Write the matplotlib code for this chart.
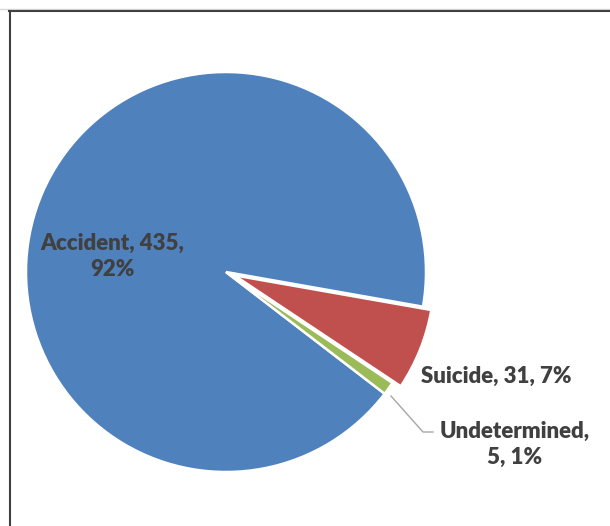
import matplotlib.pyplot as plt
from matplotlib.lines import Line2D

# death counts by manner
categories = ['Accident', 'Suicide', 'Undetermined']
counts = [435, 31, 5]
colors = ['#4F81BD', '#C0504D', '#9BBB59']
explode = [0, 0.045, 0]

W, H = 610, 526
R = 200.0          # pie radius in pixels
CX, CY = 226, 272  # pie centre in pixels (from top-left)

fig = plt.figure(figsize=(W / 100, H / 100), dpi=100)
ax = fig.add_axes([0, 0, 1, 1])

wedges, _ = ax.pie(counts, colors=colors, explode=explode, startangle=-37.5,
                   counterclock=False, radius=1,
                   wedgeprops=dict(edgecolor='white', linewidth=1.8))
ax.set_xlim(-CX / R, (W - CX) / R)
ax.set_ylim(-(H - CY) / R, CY / R)
ax.set_aspect('equal')
ax.axis('off')

total = sum(counts)
labels = [f'{c}, {n}, {round(100 * n / total)}%' for c, n in zip(categories, counts)]


def px(x, y):
    # pixel position (top-left origin) -> data coords
    return (x - CX) / R, (CY - y) / R


font = dict(family=['Lato', 'DejaVu Sans'], fontweight='heavy', fontsize=16,
            color='#404040', ha='center', va='center', linespacing=1.3)

ax.text(*px(112, 256), labels[0].replace(', 92%', ',\n92%'), **font)
ax.text(*px(496, 376), labels[1], **font)
ax.text(*px(515, 444), labels[2].replace('ed, ', 'ed,\n'), **font)

# leader line for the small slice
lx, ly = zip(px(391, 396), px(423, 432), px(433, 432))
ax.plot(lx, ly, color='#A6A6A6', linewidth=1)

# chart area border
fig.add_artist(Line2D([0, 1], [1 - 9 / H, 1 - 9 / H], color='#D9D9D9', linewidth=1))
fig.add_artist(Line2D([9 / W, 1], [1 - 11 / H, 1 - 11 / H], color='#404040', linewidth=1.5))
fig.add_artist(Line2D([10 / W, 10 / W], [0, 1 - 11 / H], color='#404040', linewidth=1.5))

fig.savefig('out.png', dpi=100)
